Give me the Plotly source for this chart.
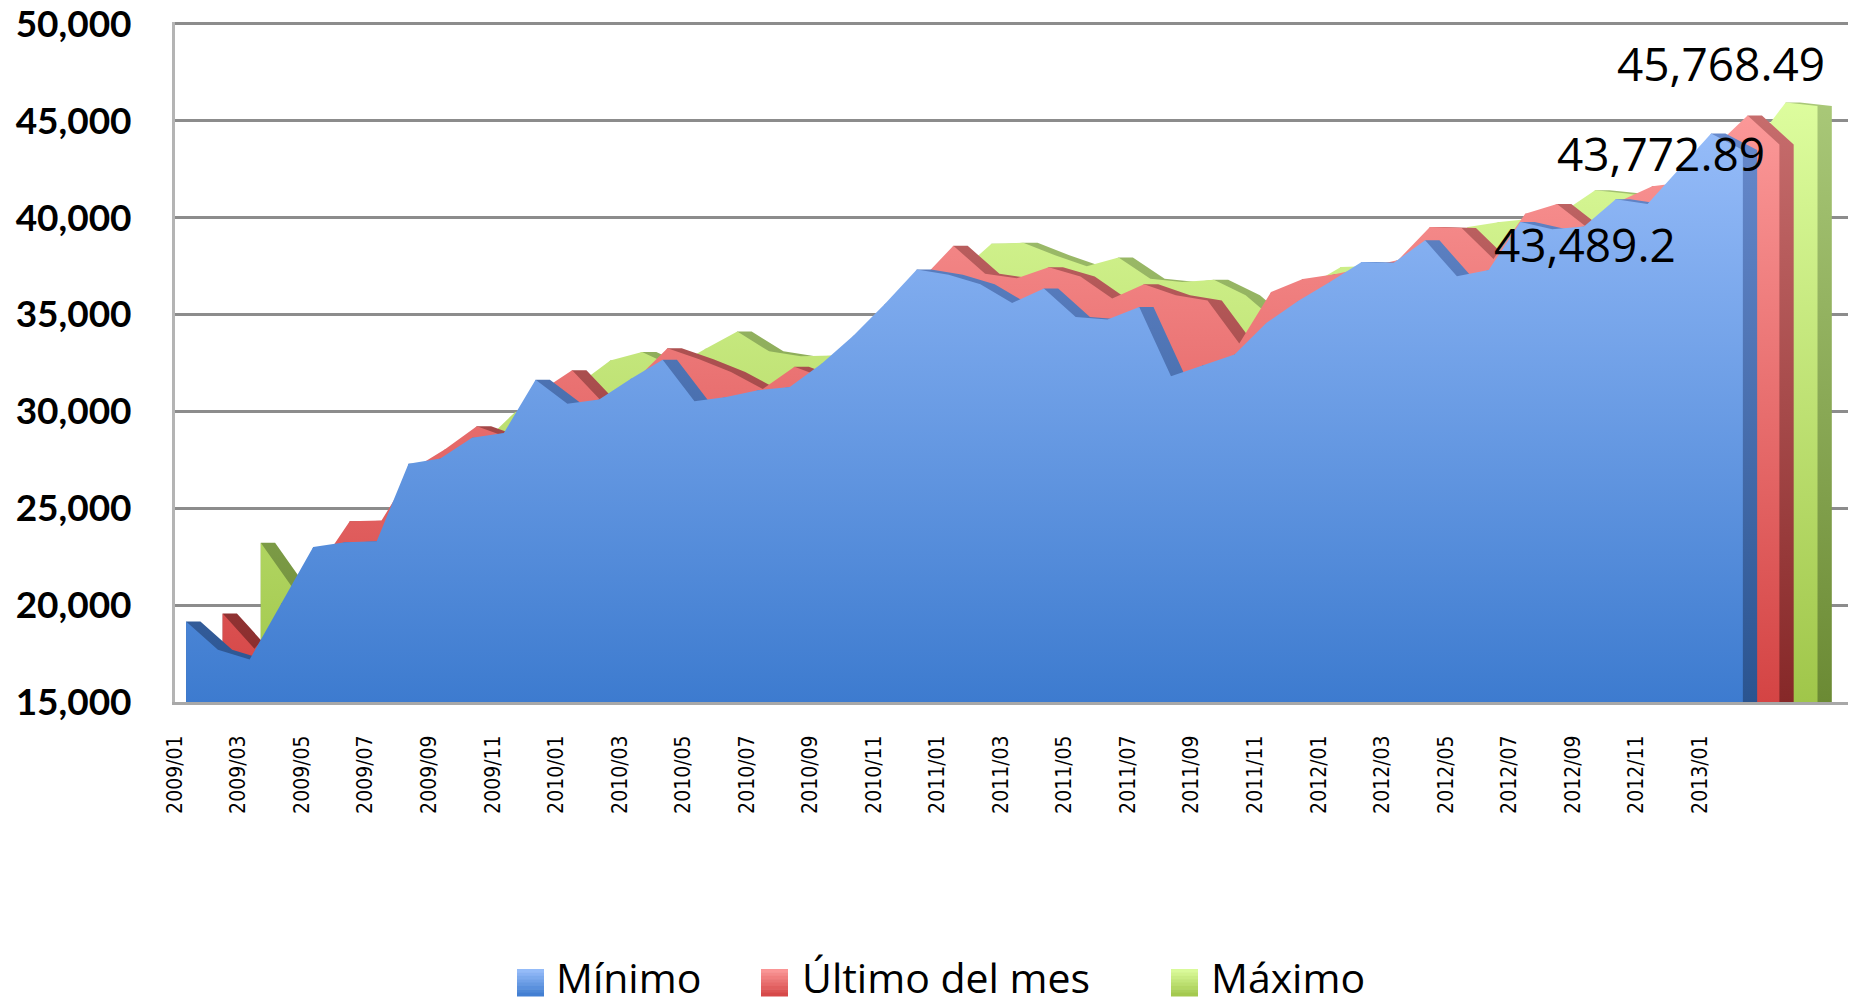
import plotly.graph_objects as go

# ---------------- data ----------------
months = ["2009/01", "2009/02", "2009/03", "2009/04", "2009/05", "2009/06",
          "2009/07", "2009/08", "2009/09", "2009/10", "2009/11", "2009/12",
          "2010/01", "2010/02", "2010/03", "2010/04", "2010/05", "2010/06",
          "2010/07", "2010/08", "2010/09", "2010/10", "2010/11", "2010/12",
          "2011/01", "2011/02", "2011/03", "2011/04", "2011/05", "2011/06",
          "2011/07", "2011/08", "2011/09", "2011/10", "2011/11", "2011/12",
          "2012/01", "2012/02", "2012/03", "2012/04", "2012/05", "2012/06",
          "2012/07", "2012/08", "2012/09", "2012/10", "2012/11", "2012/12",
          "2013/01", "2013/02"]

minimo = [19150, 17700, 17200, 20100, 23000, 23250, 23300, 27300, 27570, 28640,
          28880, 31630, 30390, 30620, 31690, 32670, 30520, 30740, 31090, 31260,
          32460, 33900, 35560, 37320, 37050, 36560, 35600, 36340, 34870, 34740,
          35390, 31810, 32380, 32940, 34560, 35700, 36680, 37710, 37660, 38830,
          36970, 37300, 39780, 39400, 39550, 40950, 40700, 42500, 44340, 43489.2]

ultimo = [19565, 17752, 19627, 21898, 24332, 24368, 27044, 28050, 29232, 28646,
          31034, 32120, 30392, 31634, 33266, 32687, 32039, 31157, 32309, 31680,
          33330, 35568, 36817, 38551, 37102, 36870, 37441, 36963, 35833, 36558,
          35999, 35721, 33503, 36160, 36829, 37077, 37422, 37816, 39521, 39461,
          37872, 40199, 40704, 39422, 40867, 41620, 41834, 43706, 45278, 43772.89]

maximo = [23220, 20900, 19700, 22000, 24400, 25400, 27300, 28380, 29960, 30300,
          31400, 32630, 33060, 32300, 33230, 34130, 33100, 32850, 32890, 32600,
          33700, 35800, 37200, 38650, 38700, 38060, 37490, 37940, 36850, 36680,
          36800, 35990, 34600, 36500, 37450, 37500, 37800, 38200, 39520, 39780,
          39950, 40300, 41410, 41250, 41000, 41900, 42000, 43800, 45950, 45768.49]

y_ticks = [15000, 20000, 25000, 30000, 35000, 40000, 45000, 50000]

# ---------------- style ----------------
FIG_W, FIG_H = 1855, 1006
ML, MR, MT, MB = 175, 7, 22, 304
PLOT_W = FIG_W - ML - MR
PLOT_H = FIG_H - MT - MB
X_MAX = PLOT_W / 31.77            # one month = 31.77 px
Y_RANGE = [15000, 50100]

DEPTH = 0.45                      # pseudo-3D thickness (in months)
series_style = {
    # name: (x offset, front bottom, front top, back bottom, back top)
    "Mínimo": (0.35, "#3d7bcf", "#9abffb", "#2a5490", "#6a8ccf"),
    "Último del mes": (1.50, "#d44444", "#fc9a9a", "#862828", "#c86e6e"),
    "Máximo": (2.70, "#a0c64a", "#ddfd9e", "#6b8a34", "#a9c878"),
}
GRAD_LO, GRAD_HI = 15000, 46000


def grad(c0, c1):
    return dict(type="vertical", colorscale=[[0, c0], [1, c1]],
                start=GRAD_LO, stop=GRAD_HI)


def extrude(xs, ys, d):
    """Outline of the series pushed back by depth d (visible top faces)."""
    ox, oy = [], []
    for j, (x, y) in enumerate(zip(xs, ys)):
        if j == 0 or y >= ys[j - 1]:
            ox.append(x)
            oy.append(y)
        ox.append(x + d)
        oy.append(y)
    return ox, oy


fig = go.Figure()

order = [("Máximo", maximo), ("Último del mes", ultimo), ("Mínimo", minimo)]
for name, vals in order:
    off, f0, f1, b0, b1 = series_style[name]
    xs = [i + off for i in range(len(vals))]
    bx, by = extrude(xs, vals, DEPTH)
    fig.add_trace(go.Scatter(x=bx, y=by, mode="lines", line=dict(width=0),
                             fill="tozeroy", fillgradient=grad(b0, b1),
                             hoverinfo="skip", showlegend=False))
    fig.add_trace(go.Scatter(x=xs, y=vals, mode="lines", line=dict(width=0),
                             fill="tozeroy", fillgradient=grad(f0, f1),
                             name=name, hoverinfo="x+y+name", showlegend=False))

# ---------------- value labels on the last points ----------------
label_pos = {"Máximo": (48.66, 47996), "Último del mes": (46.76, 43349),
             "Mínimo": (44.38, 38660)}
last_vals = {"Mínimo": minimo[-1], "Último del mes": ultimo[-1], "Máximo": maximo[-1]}
for name, (lx, ly) in label_pos.items():
    fig.add_annotation(x=lx, y=ly, xref="x", yref="y", showarrow=False,
                       text=format(last_vals[name], ","),
                       font=dict(family="Open Sans", size=46, color="black"))


# ---------------- legend (drawn) ----------------
def px(xw):
    return (xw - ML) / PLOT_W


def py(yw):
    return (FIG_H - MB - yw) / PLOT_H


legend_items = [("Mínimo", 517, 557), ("Último del mes", 761, 803), ("Máximo", 1171, 1212)]
SQ_TOP, SQ_BOT = 969, 996
NB = 8


def mix(c0, c1, t):
    a = [int(c0[k:k + 2], 16) for k in (1, 3, 5)]
    b = [int(c1[k:k + 2], 16) for k in (1, 3, 5)]
    return "#%02x%02x%02x" % tuple(round(a[k] + (b[k] - a[k]) * t) for k in range(3))


for name, sx, tx in legend_items:
    _, f0, f1, _, _ = series_style[name]
    h = (SQ_BOT - SQ_TOP) / NB
    for k in range(NB):
        y0 = SQ_TOP + k * h
        fig.add_shape(type="rect", xref="paper", yref="paper",
                      x0=px(sx), x1=px(sx + 27), y0=py(y0 + h + 0.5), y1=py(y0),
                      line=dict(width=0), fillcolor=mix(f1, f0, (k + 0.5) / NB))
    fig.add_annotation(x=px(tx - 3), y=py(976.5), xref="paper", yref="paper",
                       xanchor="left", yanchor="middle", showarrow=False,
                       text=name, font=dict(family="Open Sans", size=41, color="black"))

fig.update_layout(
    width=FIG_W, height=FIG_H,
    margin=dict(l=ML, r=MR, t=MT, b=MB, pad=0, autoexpand=False),
    paper_bgcolor="white", plot_bgcolor="white",
    showlegend=False,
    xaxis=dict(range=[0, X_MAX], tickmode="array", automargin=False,
               tickvals=list(range(0, len(months), 2)), ticktext=months[0::2],
               tickangle=-90, showgrid=False, zeroline=False,
               showline=True, linecolor="#a8a8a8", linewidth=3,
               ticks="", ticklabelstandoff=22,
               tickfont=dict(family="DejaVu Sans Condensed, Liberation Sans", size=21,
                             color="black")),
    yaxis=dict(range=Y_RANGE, tickmode="array", tickvals=y_ticks, automargin=False,
               tickformat=",", ticklabeloverflow="allow",
               showgrid=True, gridcolor="#8c8c8c", gridwidth=2.5,
               zeroline=False, showline=True, linecolor="#b4b4b4", linewidth=3,
               ticks="", ticklabelstandoff=33,
               tickfont=dict(family="Lato", size=37, color="black", weight="bold")),
)

fig.write_html("out.html", config={"displayModeBar": False},
               post_script="document.body.style.margin='0';document.body.style.overflow='hidden';")
